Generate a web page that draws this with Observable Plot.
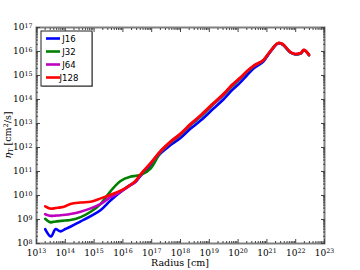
<!DOCTYPE html>
<html>
<head>
<meta charset="utf-8">
<script src="https://cdn.jsdelivr.net/npm/d3@7"></script>
<script src="https://cdn.jsdelivr.net/npm/@observablehq/plot@0.6"></script>
<style>
  html, body { margin: 0; padding: 0; background: white; }
  #chart { width: 360px; height: 270px; }
</style>
</head>
<body>
<div id="chart"></div>
<script>
// Radius [cm]
const radius = [2.0e13, 3.2e13, 4.6e13, 6.8e13, 1.0e14, 1.5e14, 3.4e14, 7.6e14, 1.7e15, 3.7e15,
  8.3e15, 1.8e16, 2.8e16, 4.1e16, 9.1e16, 2.0e17, 4.5e17, 1.0e18, 2.2e18, 5.0e18,
  1.4e19, 3.2e19, 6.3e19, 1.2e20, 2.0e20, 3.5e20, 7.8e20, 1.3e21, 2.6e21, 3.4e21,
  6.6e21, 9.8e21, 1.5e22, 1.9e22, 2.9e22];

const J16 = [4.0e8, 1.95e8, 4.0e8, 3.2e8, 4.0e8, 5.0e8, 8.3e8, 1.38e9, 2.5e9, 6.2e9,
  1.41e10, 2.75e10, 3.8e10, 6.6e10, 1.9e11, 5.6e11, 1.26e12, 2.5e12, 6.0e12, 1.32e13,
  4.2e13, 1.05e14, 2.5e14, 5.2e14, 1.0e15, 2.0e15, 4.0e15, 9.3e15, 2.2e16, 2.0e16,
  8.9e15, 7.6e15, 8.3e15, 1.12e16, 7.1e15];

const J32 = [1.07e9, 7.6e8, 8.3e8, 8.7e8, 9.1e8, 9.5e8, 1.26e9, 2.1e9, 4.5e9, 1.5e10,
  4.0e10, 6.0e10, 6.6e10, 7.2e10, 1.32e11, 6.0e11, 1.58e12, 3.3e12, 8.3e12, 1.9e13,
  6.3e13, 1.58e14, 3.6e14, 7.4e14, 1.38e15, 2.4e15, 4.4e15, 1.0e16, 2.24e16, 2.04e16,
  9.1e15, 7.6e15, 8.3e15, 1.15e16, 6.9e15];

const J64 = [1.66e9, 1.41e9, 1.45e9, 1.5e9, 1.58e9, 1.7e9, 2.1e9, 2.9e9, 4.5e9, 8.5e9,
  1.41e10, 2.6e10, 3.8e10, 7.2e10, 2.1e11, 6.6e11, 1.66e12, 3.55e12, 8.9e12, 2.1e13,
  6.6e13, 1.66e14, 4.0e14, 7.9e14, 1.45e15, 2.5e15, 4.5e15, 1.0e16, 2.24e16, 2.04e16,
  9.3e15, 7.8e15, 8.5e15, 1.15e16, 7.2e15];

const J128 = [3.5e9, 2.8e9, 3.0e9, 3.2e9, 3.6e9, 4.4e9, 5.1e9, 5.5e9, 7.6e9, 1.07e10,
  1.6e10, 2.75e10, 4.2e10, 7.6e10, 2.24e11, 7.1e11, 1.78e12, 3.8e12, 9.5e12, 2.24e13,
  7.1e13, 1.78e14, 4.2e14, 8.3e14, 1.5e15, 2.6e15, 4.6e15, 1.0e16, 2.3e16, 2.1e16,
  9.5e15, 7.9e15, 8.5e15, 1.17e16, 7.4e15];

const seriesNames = ["J16", "J32", "J64", "J128"];
const seriesColors = ["#0000ff", "#008000", "#bf00bf", "#ff0000"];
const seriesValues = [J16, J32, J64, J128];

const xTicks = [1e13, 1e14, 1e15, 1e16, 1e17, 1e18, 1e19, 1e20, 1e21, 1e22, 1e23];
const yTicks = [1e8, 1e9, 1e10, 1e11, 1e12, 1e13, 1e14, 1e15, 1e16, 1e17];

const minor = (ticks) => {
  const out = [];
  for (let i = 0; i < ticks.length - 1; i++)
    for (let m = 2; m <= 9; m++) out.push(ticks[i] * m);
  return out;
};
const xMinor = minor(xTicks);
const yMinor = minor(yTicks);

const rows = [];
seriesNames.forEach((name, si) => {
  radius.forEach((r, i) => rows.push({series: name, r, eta: seriesValues[si][i]}));
});

const fmt = d => "10^" + Math.round(Math.log10(d));
const tickColor = "#444";

const axisCommon = {label: null, stroke: tickColor};

const marks = [
  Plot.frame({stroke: "#808080", strokeWidth: 2}),
  // minor ticks
  Plot.axisX({...axisCommon, anchor: "bottom", ticks: xMinor, tickSize: -2, tickFormat: null, text: null}),
  Plot.axisX({...axisCommon, anchor: "top", ticks: xMinor, tickSize: -2, tickFormat: null, text: null}),
  Plot.axisY({...axisCommon, anchor: "left", ticks: yMinor, tickSize: -2, tickFormat: null, text: null}),
  Plot.axisY({...axisCommon, anchor: "right", ticks: yMinor, tickSize: -2, tickFormat: null, text: null}),
  // major ticks
  Plot.axisX({...axisCommon, anchor: "top", ticks: xTicks, tickSize: -4, text: null}),
  Plot.axisY({...axisCommon, anchor: "right", ticks: yTicks, tickSize: -4, text: null}),
  Plot.axisX({...axisCommon, anchor: "bottom", ticks: xTicks, tickSize: -4, tickPadding: 10, tickFormat: fmt, fill: "black", fontSize: 9}),
  Plot.axisY({...axisCommon, anchor: "left", ticks: yTicks, tickSize: -4, tickPadding: 8, tickFormat: fmt, fill: "black", fontSize: 9}),
  ...seriesNames.map((name, si) => Plot.line(rows.filter(d => d.series === name), {
    x: "r", y: "eta", stroke: seriesColors[si], strokeWidth: 2.6, curve: "monotone-x"
  }))
];

const chart = Plot.plot({
  width: 360,
  height: 270,
  marginLeft: 36,
  marginRight: 36,
  marginTop: 27,
  marginBottom: 27,
  x: {type: "log", domain: [1e13, 1e23]},
  y: {type: "log", domain: [1e8, 1e17]},
  style: {fontFamily: "'DejaVu Serif', serif", fontSize: "9px", background: "white", overflow: "visible"},
  marks
});

document.getElementById("chart").appendChild(chart);

const svg = d3.select(chart);

// superscript exponent labels
svg.selectAll("text").each(function() {
  const t = this.textContent;
  const m = /^10\^(\d+)$/.exec(t);
  if (!m) return;
  const sel = d3.select(this);
  sel.text(null);
  sel.append("tspan").text("10");
  sel.append("tspan").attr("dy", "-0.45em").attr("font-size", "6.3px").text(m[1]);
});

// axis labels
svg.append("text")
  .attr("x", 180).attr("y", 266)
  .attr("text-anchor", "middle")
  .attr("font-family", "'DejaVu Serif', serif")
  .attr("font-size", 9.5)
  .attr("fill", "black")
  .text("Radius [cm]");

const yl = svg.append("text")
  .attr("transform", "translate(11,135) rotate(-90)")
  .attr("text-anchor", "middle")
  .attr("font-family", "'DejaVu Serif', serif")
  .attr("font-size", 9.5)
  .attr("fill", "black");
yl.append("tspan").attr("font-style", "italic").text("η");
yl.append("tspan").attr("font-size", "6.5px").attr("dy", "2").text("T");
yl.append("tspan").attr("dy", "-2").text(" [cm");
yl.append("tspan").attr("font-size", "6.5px").attr("dy", "-3.5").text("2");
yl.append("tspan").attr("dy", "3.5").text("/s]");

// legend
const lg = svg.append("g");
lg.append("rect").attr("x", 42).attr("y", 32).attr("width", 51).attr("height", 55)
  .attr("fill", "#999");
lg.append("rect").attr("x", 41).attr("y", 31).attr("width", 51).attr("height", 55)
  .attr("fill", "white").attr("stroke", "#222").attr("stroke-width", 1);
seriesNames.forEach((name, i) => {
  const yy = 38.5 + i * 13;
  lg.append("line").attr("x1", 46).attr("x2", 60).attr("y1", yy).attr("y2", yy)
    .attr("stroke", seriesColors[i]).attr("stroke-width", 2.6);
  lg.append("text").attr("x", 69).attr("y", yy + 3.1)
    .attr("font-family", "'DejaVu Sans', sans-serif").attr("font-size", 8.6)
    .attr("fill", "black").text(name);
});
</script>
</body>
</html>
